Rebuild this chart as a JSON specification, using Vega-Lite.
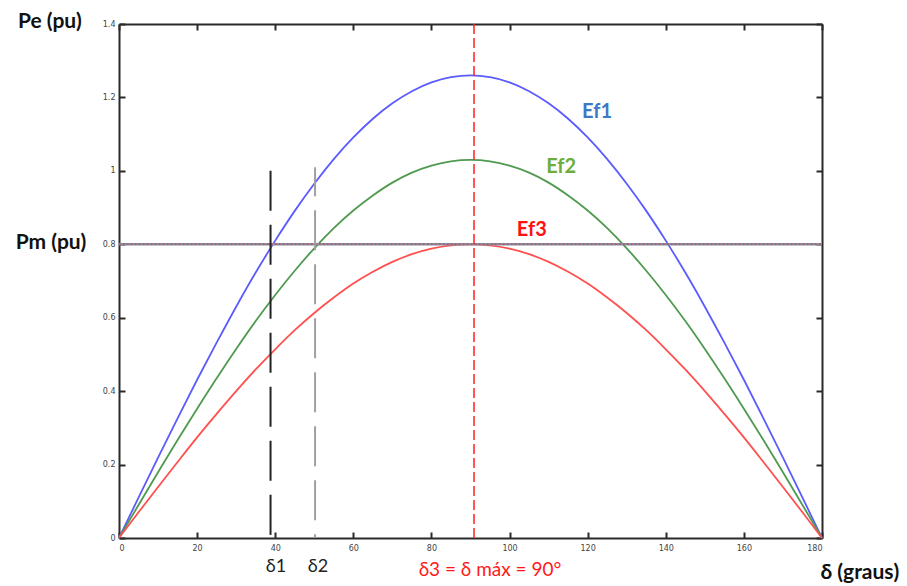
{
  "$schema": "https://vega.github.io/schema/vega-lite/v6.json",
  "width": 703,
  "height": 514,
  "autosize": {"type": "none"},
  "padding": {"left": 119, "top": 24, "right": 85, "bottom": 48},
  "background": "white",
  "config": {
    "view": {"stroke": null},
    "axis": {"grid": false, "domainColor": "#2a2a2a", "domainWidth": 2, "tickColor": "#2a2a2a", "tickWidth": 2, "tickSize": -6, "labelFont": "DejaVu Sans", "labelFontSize": 8, "labelColor": "#444444"}
  },
  "datasets": {
    "curves": [
      {"d":0,"p":0,"c":"Ef1"},{"d":5,"p":0.110,"c":"Ef1"},{"d":10,"p":0.219,"c":"Ef1"},{"d":15,"p":0.326,"c":"Ef1"},{"d":20,"p":0.431,"c":"Ef1"},{"d":25,"p":0.532,"c":"Ef1"},{"d":30,"p":0.630,"c":"Ef1"},{"d":35,"p":0.723,"c":"Ef1"},{"d":40,"p":0.810,"c":"Ef1"},{"d":45,"p":0.891,"c":"Ef1"},{"d":50,"p":0.965,"c":"Ef1"},{"d":55,"p":1.032,"c":"Ef1"},{"d":60,"p":1.091,"c":"Ef1"},{"d":65,"p":1.142,"c":"Ef1"},{"d":70,"p":1.184,"c":"Ef1"},{"d":75,"p":1.217,"c":"Ef1"},{"d":80,"p":1.241,"c":"Ef1"},{"d":85,"p":1.255,"c":"Ef1"},{"d":90,"p":1.26,"c":"Ef1"},{"d":95,"p":1.255,"c":"Ef1"},{"d":100,"p":1.241,"c":"Ef1"},{"d":105,"p":1.217,"c":"Ef1"},{"d":110,"p":1.184,"c":"Ef1"},{"d":115,"p":1.142,"c":"Ef1"},{"d":120,"p":1.091,"c":"Ef1"},{"d":125,"p":1.032,"c":"Ef1"},{"d":130,"p":0.965,"c":"Ef1"},{"d":135,"p":0.891,"c":"Ef1"},{"d":140,"p":0.810,"c":"Ef1"},{"d":145,"p":0.723,"c":"Ef1"},{"d":150,"p":0.630,"c":"Ef1"},{"d":155,"p":0.532,"c":"Ef1"},{"d":160,"p":0.431,"c":"Ef1"},{"d":165,"p":0.326,"c":"Ef1"},{"d":170,"p":0.219,"c":"Ef1"},{"d":175,"p":0.110,"c":"Ef1"},{"d":180,"p":0,"c":"Ef1"},
      {"d":0,"p":0,"c":"Ef2"},{"d":5,"p":0.090,"c":"Ef2"},{"d":10,"p":0.179,"c":"Ef2"},{"d":15,"p":0.267,"c":"Ef2"},{"d":20,"p":0.352,"c":"Ef2"},{"d":25,"p":0.435,"c":"Ef2"},{"d":30,"p":0.515,"c":"Ef2"},{"d":35,"p":0.591,"c":"Ef2"},{"d":40,"p":0.662,"c":"Ef2"},{"d":45,"p":0.728,"c":"Ef2"},{"d":50,"p":0.789,"c":"Ef2"},{"d":55,"p":0.844,"c":"Ef2"},{"d":60,"p":0.892,"c":"Ef2"},{"d":65,"p":0.933,"c":"Ef2"},{"d":70,"p":0.968,"c":"Ef2"},{"d":75,"p":0.995,"c":"Ef2"},{"d":80,"p":1.014,"c":"Ef2"},{"d":85,"p":1.026,"c":"Ef2"},{"d":90,"p":1.03,"c":"Ef2"},{"d":95,"p":1.026,"c":"Ef2"},{"d":100,"p":1.014,"c":"Ef2"},{"d":105,"p":0.995,"c":"Ef2"},{"d":110,"p":0.968,"c":"Ef2"},{"d":115,"p":0.933,"c":"Ef2"},{"d":120,"p":0.892,"c":"Ef2"},{"d":125,"p":0.844,"c":"Ef2"},{"d":130,"p":0.789,"c":"Ef2"},{"d":135,"p":0.728,"c":"Ef2"},{"d":140,"p":0.662,"c":"Ef2"},{"d":145,"p":0.591,"c":"Ef2"},{"d":150,"p":0.515,"c":"Ef2"},{"d":155,"p":0.435,"c":"Ef2"},{"d":160,"p":0.352,"c":"Ef2"},{"d":165,"p":0.267,"c":"Ef2"},{"d":170,"p":0.179,"c":"Ef2"},{"d":175,"p":0.090,"c":"Ef2"},{"d":180,"p":0,"c":"Ef2"},
      {"d":0,"p":0,"c":"Ef3"},{"d":5,"p":0.070,"c":"Ef3"},{"d":10,"p":0.139,"c":"Ef3"},{"d":15,"p":0.207,"c":"Ef3"},{"d":20,"p":0.274,"c":"Ef3"},{"d":25,"p":0.338,"c":"Ef3"},{"d":30,"p":0.400,"c":"Ef3"},{"d":35,"p":0.459,"c":"Ef3"},{"d":40,"p":0.514,"c":"Ef3"},{"d":45,"p":0.566,"c":"Ef3"},{"d":50,"p":0.613,"c":"Ef3"},{"d":55,"p":0.655,"c":"Ef3"},{"d":60,"p":0.693,"c":"Ef3"},{"d":65,"p":0.725,"c":"Ef3"},{"d":70,"p":0.752,"c":"Ef3"},{"d":75,"p":0.773,"c":"Ef3"},{"d":80,"p":0.788,"c":"Ef3"},{"d":85,"p":0.797,"c":"Ef3"},{"d":90,"p":0.8,"c":"Ef3"},{"d":95,"p":0.797,"c":"Ef3"},{"d":100,"p":0.788,"c":"Ef3"},{"d":105,"p":0.773,"c":"Ef3"},{"d":110,"p":0.752,"c":"Ef3"},{"d":115,"p":0.725,"c":"Ef3"},{"d":120,"p":0.693,"c":"Ef3"},{"d":125,"p":0.655,"c":"Ef3"},{"d":130,"p":0.613,"c":"Ef3"},{"d":135,"p":0.566,"c":"Ef3"},{"d":140,"p":0.514,"c":"Ef3"},{"d":145,"p":0.459,"c":"Ef3"},{"d":150,"p":0.400,"c":"Ef3"},{"d":155,"p":0.338,"c":"Ef3"},{"d":160,"p":0.274,"c":"Ef3"},{"d":165,"p":0.207,"c":"Ef3"},{"d":170,"p":0.139,"c":"Ef3"},{"d":175,"p":0.070,"c":"Ef3"},{"d":180,"p":0,"c":"Ef3"}
    ],
    "pm": [{"d":0,"p":0.8},{"d":180,"p":0.8}]
  },
  "layer": [
    {
      "data": {"name": "curves"},
      "mark": {"type": "line", "strokeWidth": 1.8, "interpolate": "monotone"},
      "encoding": {
        "x": {"field": "d", "type": "quantitative", "scale": {"domain": [0, 180], "nice": false},
              "axis": {"orient": "bottom", "title": null, "values": [0,20,40,60,80,100,120,140,160,180], "labelPadding": 12}},
        "y": {"field": "p", "type": "quantitative", "scale": {"domain": [0, 1.4], "nice": false},
              "axis": {"orient": "left", "title": null, "values": [0,0.2,0.4,0.6,0.8,1,1.2,1.4], "format": "~g", "labelPadding": 10}},
        "color": {"field": "c", "type": "nominal", "scale": {"domain": ["Ef1","Ef2","Ef3"], "range": ["#5b5bff","#4f9a4f","#ff5050"]}, "legend": null}
      }
    },
    {
      "data": {"name": "pm"},
      "mark": {"type": "line", "color": "#8a8aa0", "strokeWidth": 2.5},
      "encoding": {
        "x": {"field": "d", "type": "quantitative", "axis": {"orient": "top", "title": null, "labels": false, "values": [0,20,40,60,80,100,120,140,160,180]}},
        "y": {"field": "p", "type": "quantitative", "axis": {"orient": "right", "title": null, "labels": false, "values": [0,0.2,0.4,0.6,0.8,1,1.2,1.4]}}
      }
    },
    {
      "data": {"name": "pm"},
      "mark": {"type": "line", "color": "#d04848", "strokeWidth": 1.5, "strokeDash": [1.5, 2.5]},
      "encoding": {
        "x": {"field": "d", "type": "quantitative", "axis": null},
        "y": {"field": "p", "type": "quantitative", "axis": null}
      }
    },
    {
      "data": {"values": [{"d": 38.8, "p": 1.0, "p0": 0}]},
      "mark": {"type": "rule", "color": "#222222", "strokeWidth": 2, "strokeDash": [40, 14]},
      "encoding": {
        "x": {"field": "d", "type": "quantitative", "axis": null},
        "y": {"field": "p", "type": "quantitative", "axis": null},
        "y2": {"field": "p0"}
      }
    },
    {
      "data": {"values": [{"d": 50.2, "p": 1.01, "p0": 0}]},
      "mark": {"type": "rule", "color": "#a0a0a0", "strokeWidth": 2, "strokeDash": [40, 14], "strokeDashOffset": 11},
      "encoding": {
        "x": {"field": "d", "type": "quantitative", "axis": null},
        "y": {"field": "p", "type": "quantitative", "axis": null},
        "y2": {"field": "p0"}
      }
    },
    {
      "data": {"values": [{"d": 90.9, "p": 1.4, "p0": 0}]},
      "mark": {"type": "rule", "color": "#ff2020", "strokeWidth": 1.5, "strokeDash": [10, 4]},
      "encoding": {
        "x": {"field": "d", "type": "quantitative", "axis": null},
        "y": {"field": "p", "type": "quantitative", "axis": null},
        "y2": {"field": "p0"}
      }
    },
    {
      "data": {"values": [{"t": "Pe (pu)", "d": -17.7, "p": 1.405}, {"t": "Pm (pu)", "d": -17.4, "p": 0.803}, {"t": "δ (graus)", "d": 189.7, "p": -0.094}]},
      "mark": {"type": "text", "font": "Lato", "fontWeight": "bold", "fontSize": 21, "color": "#111111", "baseline": "middle", "align": "center"},
      "encoding": {
        "x": {"field": "d", "type": "quantitative", "axis": null},
        "y": {"field": "p", "type": "quantitative", "axis": null},
        "text": {"field": "t"}
      }
    },
    {
      "data": {"values": [{"t": "δ1", "d": 40.2, "p": -0.079}, {"t": "δ2", "d": 50.95, "p": -0.079}]},
      "mark": {"type": "text", "font": "Lato", "fontSize": 18, "color": "#222222", "baseline": "middle", "align": "center"},
      "encoding": {
        "x": {"field": "d", "type": "quantitative", "axis": null},
        "y": {"field": "p", "type": "quantitative", "axis": null},
        "text": {"field": "t"}
      }
    },
    {
      "data": {"values": [{"t": "δ3 = δ máx = 90°", "d": 95.0, "p": -0.087}]},
      "mark": {"type": "text", "font": "Lato", "fontSize": 19, "color": "#ff1a1a", "baseline": "middle", "align": "center"},
      "encoding": {
        "x": {"field": "d", "type": "quantitative", "axis": null},
        "y": {"field": "p", "type": "quantitative", "axis": null},
        "text": {"field": "t"}
      }
    },
    {
      "data": {"values": [{"t": "Ef1", "d": 122.4, "p": 1.16}, {"t": "Ef2", "d": 113.2, "p": 1.01}, {"t": "Ef3", "d": 105.7, "p": 0.839}]},
      "mark": {"type": "text", "font": "Lato", "fontWeight": "bold", "fontSize": 20, "baseline": "middle", "align": "center"},
      "encoding": {
        "x": {"field": "d", "type": "quantitative", "axis": null},
        "y": {"field": "p", "type": "quantitative", "axis": null},
        "text": {"field": "t"},
        "color": {"field": "t", "type": "nominal", "scale": {"domain": ["Ef1","Ef2","Ef3"], "range": ["#3d78c6","#6cae3c","#ff1010"]}, "legend": null}
      }
    }
  ],
  "resolve": {"scale": {"color": "independent"}, "axis": {"x": "independent", "y": "independent"}}
}
